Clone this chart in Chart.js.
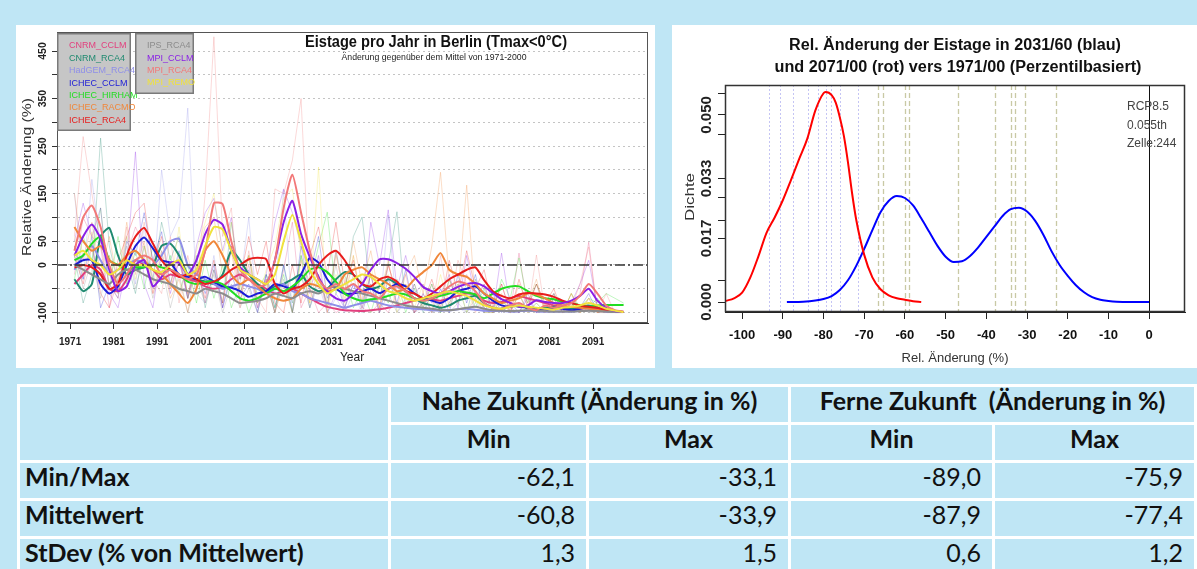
<!DOCTYPE html>
<html>
<head>
<meta charset="utf-8">
<script src="https://cdn.jsdelivr.net/npm/chart.js@4.4.1/dist/chart.umd.min.js"></script>
<style>
  html, body { margin: 0; padding: 0; }
  body { width: 1197px; height: 569px; background: #bfe6f5; position: relative; overflow: hidden; }
  .panel { position: absolute; background: #fff; }
  #leftPanel { left: 16px; top: 25px; width: 639px; height: 343px; }
  #rightPanel { left: 672px; top: 25px; width: 525px; height: 343px; }
  #stats { position: absolute; left: 17px; top: 384px; border-collapse: separate; border-spacing: 3px; background: #fff;
           font-family: Lato, 'Open Sans', sans-serif; font-size: 25px; color: #111; table-layout: fixed; }
  #stats td, #stats th { background: #bfe6f5; height: 35px; padding: 0 0 9px 0; box-sizing: border-box; line-height: 26px; }
  #stats th { font-weight: bold; text-align: center; }
  #stats td.lab { font-weight: bold; text-align: left; padding-left: 5px; }
  #stats td.num { text-align: right; padding-right: 11px; }
</style>
</head>
<body>
<div class="panel" id="leftPanel"><canvas id="trendChart" width="639" height="343"></canvas></div>
<div class="panel" id="rightPanel"><canvas id="densityChart" width="525" height="343"></canvas></div>
<table id="stats"></table>

<script>
// ---- left chart: relative change of ice days, 11 model runs ----
const years = [
  1972, 1974, 1976, 1978, 1980, 1982, 1984, 1986,
  1988, 1990, 1992, 1994, 1996, 1998, 2000, 2002,
  2004, 2006, 2008, 2010, 2012, 2014, 2016, 2018,
  2020, 2022, 2024, 2026, 2028, 2030, 2032, 2034,
  2036, 2038, 2040, 2042, 2044, 2046, 2048, 2050,
  2052, 2054, 2056, 2058, 2060, 2062, 2064, 2066,
  2068, 2070, 2072, 2074, 2076, 2078, 2080, 2082,
  2084, 2086, 2088, 2090, 2092, 2094, 2096, 2098
];
const xTickYears = [1971, 1981, 1991, 2001, 2011, 2021, 2031, 2041, 2051, 2061, 2071, 2081, 2091];
const yGridValues = [-100, -50, 0, 50, 100, 150, 200, 250, 300, 350, 400, 450];
const yLabelValues = [-100, 0, 50, 150, 250, 350, 450];

const models = ['CNRM_CCLM', 'CNRM_RCA4', 'HadGEM_RCA4', 'ICHEC_CCLM', 'ICHEC_HIRHAM', 'ICHEC_RACMO',
                'ICHEC_RCA4', 'IPS_RCA4', 'MPI_CCLM', 'MPI_RCA4', 'MPI_REMO'];

// smoothed (running mean) curves
const smooth_CNRM_CCLM = [
  -40, -20, 0, -10, -50, -55, -30, 10,
  0, -10, -30, -20, -25, -30, -35, -45,
  -50, -45, -30, -20, -30, -40, -50, -60,
  -55, -50, -60, -70, -80, -88, -92, -95,
  -96, -97, -95, -93, -90, -85, -80, -75,
  -70, -72, -75, -70, -65, -60, -62, -75,
  -80, -78, -70, -65, -70, -75, -80, -85,
  -88, -90, -92, -90, -92, -95, -98, -99];
const smooth_CNRM_RCA4 = [
  -30, -55, -40, 60, 78, 20, -20, -10,
  -5, 0, 40, 45, 20, -20, -30, -35,
  -40, -20, 30, 10, -20, -40, -55, -45,
  -40, -30, -20, -45, -55, -50, -30, -15,
  -20, -40, -50, -45, -30, -40, -55, -70,
  -80, -85, -90, -85, -75, -70, -65, -80,
  -90, -92, -85, -88, -90, -92, -90, -88,
  -90, -92, -88, -85, -90, -95, -97, -99];
const smooth_HadGEM_RCA4 = [
  -10, 20, 40, 10, -20, -10, 0, 10,
  5, 0, 20, 50, 55, 0, -20, -30,
  -40, -50, -45, -40, -45, -50, -60, -50,
  -40, -55, -60, -70, -75, -80, -85, -90,
  -85, -80, -75, -80, -85, -88, -90, -92,
  -93, -95, -96, -95, -93, -92, -94, -96,
  -97, -97, -98, -97, -96, -97, -98, -98,
  -98, -98, -97, -95, -96, -98, -99, -99];
const smooth_ICHEC_CCLM = [
  0, 10, 10, -40, -60, -45, 0, 40,
  58, 35, 10, 5, -20, -25, -30, -25,
  -35, -45, -48, -55, -67, -60, -55, -40,
  -45, -50, -20, 15, 5, -30, -50, -60,
  -60, -55, -50, -59, -50, -40, -45, -60,
  -70, -75, -80, -70, -55, -50, -45, -60,
  -75, -85, -88, -85, -90, -92, -95, -90,
  -92, -95, -92, -88, -90, -95, -98, -99];
const smooth_ICHEC_HIRHAM = [
  10, 20, 45, 60, 10, 0, -10, -5,
  -5, 0, -5, -10, -20, -35, -40, -35,
  -35, -40, -55, -70, -75, -70, -60, -50,
  -55, -45, -30, -10, -5, -15, -35, -60,
  -70, -75, -72, -70, -65, -60, -62, -70,
  -75, -70, -65, -60, -55, -58, -62, -70,
  -60, -50, -45, -45, -55, -65, -70, -72,
  -78, -80, -85, -88, -85, -84, -84, -84];
const smooth_ICHEC_RACMO = [
  80, 50, 30, 40, 10, 0, 20, 30,
  10, -10, -20, -40, -60, -80, -50, 30,
  50, 20, -20, -40, -30, -45, -60, -70,
  -75, -70, -50, -40, -45, -55, -50, -20,
  -10, -5, -20, -30, -40, -55, -50, -30,
  -15, 0, 25, -10, -20, -25, -40, -60,
  -70, -80, -75, -70, -60, -62, -70, -80,
  -85, -88, -90, -92, -94, -96, -97, -99];
const smooth_ICHEC_RCA4 = [
  -5, 0, -5, -20, -50, -40, 20, 60,
  78, 45, 10, -10, -25, -20, -30, -40,
  -35, -25, -10, 0, 12, 15, 12, -40,
  -60, -50, -45, -30, 0, 20, 30, 10,
  -20, -40, -45, -30, -25, -35, -55, -60,
  -70, -60, -45, -30, -20, -10, -5, -32,
  -55, -65, -70, -62, -59, -60, -62, -67,
  -75, -80, -85, -88, -90, -95, -98, -99];
const smooth_IPS_RCA4 = [
  0, -10, -20, -30, -40, -20, -10, -10,
  -20, -30, -35, -40, -50, -55, -60, -50,
  -55, -60, -70, -80, -78, -75, -70, -60,
  -65, -70, -60, -55, -60, -50, -45, -50,
  -55, -60, -65, -70, -75, -80, -85, -88,
  -90, -92, -95, -95, -93, -90, -88, -92,
  -95, -96, -97, -96, -95, -96, -97, -98,
  -98, -98, -97, -96, -97, -98, -99, -99];
const smooth_MPI_CCLM = [
  20, 60, 85, 55, -10, -55, -45, 0,
  10, -45, -25, 5, 5, -20, 10, 65,
  95, 85, 30, -5, -20, -30, -40, 10,
  90, 135, 65, 17, -25, -55, -70, -75,
  -60, -40, -10, 12, 12, 4, -8, -25,
  -46, -55, -60, -55, -46, -40, -38, -45,
  -59, -72, -80, -88, -85, -74, -78, -80,
  -80, -75, -65, -50, -75, -90, -97, -99];
const smooth_MPI_RCA4 = [
  30, 100, 125, 80, 0, -40, -20, 10,
  20, 10, -20, -10, -20, -30, -20, 30,
  130, 128, 50, -10, -30, -45, -40, 10,
  120, 190, 110, 30, -30, -50, -40, -50,
  -40, -55, -60, -70, -50, -45, -55, -70,
  -75, -70, -60, -45, -35, -40, -55, -80,
  -90, -92, -85, -80, -90, -95, -85, -90,
  -85, -80, -65, -40, -60, -85, -95, -98];
const smooth_MPI_REMO = [
  20, 30, 10, 0, -20, -10, 10, 0,
  0, -10, -15, 0, 10, -20, -10, 40,
  80, 75, 30, -10, -20, -30, -40, -20,
  50, 105, 50, -10, -40, -60, -50, -40,
  -30, -20, -25, -40, -55, -60, -70, -75,
  -70, -65, -60, -55, -60, -65, -75, -85,
  -90, -92, -88, -85, -88, -90, -92, -94,
  -90, -88, -85, -80, -85, -92, -96, -99];

// annual values (pale lines)
const raw_CNRM_CCLM = [
  -20, 100, 60, 40, -90, -30, 20, 80,
  40, -60, -10, -40, 20, -70, 0, -80,
  -10, -90, 40, -60, 0, -80, -30, -100,
  -10, 90, -90, -50, -100, -80, -100, -90,
  -100, -90, -100, -80, -100, -60, -70, -40,
  -90, -40, -100, -30, -80, -20, -60, -90,
  -100, -40, -100, 25, -90, -40, -100, -70,
  -100, -90, -60, 48, -100, -90, -100, -100];
const raw_CNRM_RCA4 = [
  20, -80, -20, 267, 40, -40, 10, -60,
  40, -30, 90, 10, 60, -70, 20, -90,
  -10, -80, 90, -30, 20, -80, -40, -100,
  0, -80, 20, -90, -20, -90, 30, -60,
  60, 101, -60, -70, 0, 112, -90, -40,
  -100, -60, -100, -80, -40, -100, -30, -90,
  -100, -70, -100, -60, -100, -80, -100, -70,
  -100, -80, -100, -90, -70, -100, -100, -100];
const raw_HadGEM_RCA4 = [
  150, -30, 180, 40, -20, -60, 60, -40,
  80, -50, 200, 60, 100, 330, -60, -80,
  20, -90, -10, -40, 100, -100, -20, -60,
  158, -100, -20, -90, -40, -100, -70, -100,
  -60, -100, -40, -100, 105, -100, -80, -100,
  -90, -100, -80, -100, -90, -100, -80, -100,
  -100, -90, -100, -100, -90, -100, -100, -100,
  -100, -90, -100, -80, -100, -100, -100, -100];
const raw_ICHEC_CCLM = [
  40, -30, 60, -90, -40, -70, 50, 20,
  110, 10, 70, -40, 30, -70, -10, -60,
  0, -90, -20, -70, -40, -100, -20, -90,
  0, -100, 40, -20, 60, -70, -30, -90,
  -40, -90, -20, -100, -30, -80, -10, -100,
  -60, -100, -50, -100, -20, -80, -20, -100,
  -60, -100, -80, -100, -70, -100, -90, -100,
  -80, -100, -90, -60, -100, -90, -100, -100];
const raw_ICHEC_HIRHAM = [
  -30, 60, 10, 120, -50, 60, -40, 30,
  -50, 40, -40, 20, -60, 0, -80, 10,
  -70, 0, -90, -40, -100, -50, -20, -90,
  -20, -100, 20, -40, 40, 111, -60, -20,
  -90, -50, -100, -40, -80, -30, -100, -50,
  -90, -40, -100, -30, -80, -40, -90, -50,
  -100, -30, -70, 15, -80, -40, -90, -60,
  -100, -60, -90, -70, -80, -60, -70, -80];
const raw_ICHEC_RACMO = [
  150, 10, 90, -20, 60, -40, 90, -10,
  50, -60, 20, -70, -30, -100, 10, 80,
  100, -20, 30, -80, 20, -90, -30, -100,
  -40, -100, 10, -80, 0, -90, 20, -60,
  50, -40, 30, -70, 10, -90, -20, 20,
  -60, 40, 195, -30, -60, 168, -80, -40,
  -100, -60, -100, -40, -80, -30, -100, -60,
  -100, -80, -100, -90, -100, -100, -100, -100];
const raw_ICHEC_RCA4 = [
  20, -40, 40, -60, -90, 10, 60, 110,
  130, 0, 60, -50, 10, -60, -10, -70,
  10, -80, 40, -30, 60, -20, 50, -80,
  -100, 0, -80, 20, 80, -20, 90, -40,
  10, -80, -20, -90, 0, -60, -40, -100,
  -80, -30, -90, 10, -60, 30, -50, -10,
  -90, -40, -100, -30, -90, -40, -80, -50,
  -100, -60, -100, -70, -100, -90, -100, -100];
const raw_IPS_RCA4 = [
  40, -50, 10, -70, 20, -60, 40, -50,
  20, -70, 0, -90, -20, -100, -30, -80,
  -20, -100, -40, -90, -50, -100, -30, -100,
  -30, -100, -20, -90, -30, -80, 0, -90,
  -20, -100, -40, -100, -60, -100, -70, -100,
  -80, -100, -90, -100, -80, -100, -70, -100,
  -100, -90, -100, -100, -90, -100, -100, -100,
  -100, -100, -90, -100, -100, -100, -100, -100];
const raw_MPI_CCLM = [
  50, 130, 60, 120, -60, -90, 0, 238,
  -40, -90, 30, -60, 10, -70, 40, 110,
  140, 30, 100, -60, -10, -90, -20, 90,
  160, 110, 40, -60, 20, -100, -60, -90,
  -40, -80, 90, 0, 116, -50, 20, -60,
  -40, -80, -60, -20, -90, 20, -70, -40,
  -100, 25, -90, -100, -60, -100, -90, -60,
  -100, -80, -40, 10, -90, -100, -100, -100];
const raw_MPI_RCA4 = [
  60, 270, 150, 40, -40, -70, 80, -20,
  90, -30, -60, 60, -80, 20, -60, 150,
  480, 60, 120, -90, 30, -70, -100, 160,
  150, 220, 350, -40, -20, -100, 30, -80,
  20, -90, -40, -100, 0, -60, -20, -100,
  -60, -100, 20, -90, 10, -40, -100, -60,
  -100, -80, -100, -60, -100, 21, -100, -80,
  -100, -90, -40, 38, -100, -60, -100, -100];
const raw_MPI_REMO = [
  60, -20, 70, -40, 20, -60, 60, -30,
  40, -40, 30, -50, 80, -70, 30, 90,
  150, 20, 90, -60, 20, -80, -10, 40,
  140, 160, 20, -80, 206, -100, -20, -70,
  20, -80, 0, -90, -20, -100, -40, -90,
  -40, -100, -20, -90, -40, -100, -60, -100,
  -100, -70, -100, -60, -100, -80, -100, -80,
  -100, -60, -100, -70, -100, -90, -100, -100];

const smoothSeries = [smooth_CNRM_CCLM, smooth_CNRM_RCA4, smooth_HadGEM_RCA4, smooth_ICHEC_CCLM, smooth_ICHEC_HIRHAM,
  smooth_ICHEC_RACMO, smooth_ICHEC_RCA4, smooth_IPS_RCA4, smooth_MPI_CCLM, smooth_MPI_RCA4, smooth_MPI_REMO];
const rawSeries = [raw_CNRM_CCLM, raw_CNRM_RCA4, raw_HadGEM_RCA4, raw_ICHEC_CCLM, raw_ICHEC_HIRHAM,
  raw_ICHEC_RACMO, raw_ICHEC_RCA4, raw_IPS_RCA4, raw_MPI_CCLM, raw_MPI_RCA4, raw_MPI_REMO];

// ---- right chart: density of the relative change ----
const redX = [-104, -102, -100, -98, -96, -94, -92, -90, -88, -86, -84, -82, -80, -79.5, -78, -77, -76, -75, -74, -73, -72, -70, -68, -66, -64, -62, -60, -58, -56];
const redY = [0.0003, 0.0010, 0.0025, 0.0065, 0.0122, 0.0185, 0.0226, 0.0272, 0.0326, 0.0382, 0.0436, 0.0512, 0.0558, 0.0561, 0.0553, 0.0533, 0.0494, 0.0444, 0.0374, 0.0292, 0.0222, 0.0126, 0.0066, 0.0034, 0.0018, 0.0010, 0.0006, 0.0002, 0.0000];
const blueX = [-89, -85, -82, -80, -78, -76, -74, -72, -70, -68, -66, -64, -62, -60, -58, -56, -54, -52, -50, -48, -46, -44, -42, -40, -38, -36, -34, -32, -30, -28, -26, -24, -22, -20, -18, -16, -14, -12, -10, -8, -5, 0];
const blueY = [0.0000, 0.0001, 0.0004, 0.0008, 0.0016, 0.0032, 0.0058, 0.0096, 0.0142, 0.0192, 0.0240, 0.0270, 0.0283, 0.0278, 0.0258, 0.0224, 0.0187, 0.0150, 0.0121, 0.0107, 0.0109, 0.0123, 0.0146, 0.0174, 0.0202, 0.0230, 0.0248, 0.0252, 0.0242, 0.0217, 0.0180, 0.0136, 0.0099, 0.0070, 0.0045, 0.0026, 0.0013, 0.0006, 0.0003, 0.0001, 0.0000, 0.0000];
const blueMarks = [-93.4, -90.7, -87.5, -83.8, -81.3, -79.4, -78.1, -75.9, -71.5];
const oliveMarks = [-66.6, -65.4, -60.0, -59.0, -46.9, -37.8, -33.9, -32.9, -30.5, -22.9];
const densXTicks = [-100, -90, -80, -70, -60, -50, -40, -30, -20, -10, 0];
const densYTicks = [0, 0.0058, 0.017, 0.0217, 0.0278, 0.033, 0.0447, 0.05, 0.0558];
const densYLabels = [0, 0.017, 0.033, 0.05];
const infoLines = ['RCP8.5', '0.055th', 'Zelle:244'];

// ---- table ----
const rowNames = ['Min/Max', 'Mittelwert', 'StDev (% von Mittelwert)'];
const nearMin = ['-62,1', '-60,8', '1,3'];
const nearMax = ['-33,1', '-33,9', '1,5'];
const farMin = ['-89,0', '-87,9', '0,6'];
const farMax = ['-75,9', '-77,4', '1,2'];

const modelColors = {
  CNRM_CCLM: '#e2407e', CNRM_RCA4: '#1f8a70', HadGEM_RCA4: '#8f8fe8', ICHEC_CCLM: '#1c1cd6',
  ICHEC_HIRHAM: '#22dd22', ICHEC_RACMO: '#f0873a', ICHEC_RCA4: '#e81c1c', IPS_RCA4: '#8c8c8c',
  MPI_CCLM: '#8a1fe6', MPI_RCA4: '#f27878', MPI_REMO: '#f0e23c'
};

const FONT = "'Liberation Sans', Arial, Helvetica, sans-serif";
Chart.defaults.font.family = FONT;

// --- Helpers ---

function fade(hex, a) {
  const n = parseInt(hex.slice(1), 16);
  return `rgba(${n >> 16},${(n >> 8) & 255},${n & 255},${a})`;
}

// text squeezed/stretched to a given width (the R picture is not evenly scaled)
function fitText(ctx, text, x, y, width, font, color, align) {
  ctx.save();
  ctx.font = font;
  ctx.fillStyle = color;
  ctx.textBaseline = 'middle';
  ctx.textAlign = align || 'center';
  const k = width ? width / ctx.measureText(text).width : 1;
  ctx.translate(x, y);
  ctx.scale(k, 1);
  ctx.fillText(text, 0, 0);
  ctx.restore();
}

// rotated text, optionally stretched to a given length
function vText(ctx, text, x, y, font, color, length) {
  ctx.save();
  ctx.translate(x, y);
  ctx.rotate(-Math.PI / 2);
  ctx.font = font;
  ctx.fillStyle = color;
  ctx.textAlign = 'center';
  ctx.textBaseline = 'middle';
  if (length) ctx.scale(length / ctx.measureText(text).width, 1);
  ctx.fillText(text, 0, 0);
  ctx.restore();
}

// --- Left chart ---

const trendDecor = {
  id: 'trendDecor',
  afterDatasetsDraw(chart) {
    const { ctx, chartArea: a, scales: { y } } = chart;
    ctx.save();
    ctx.strokeStyle = '#555';
    ctx.lineWidth = 1;
    ctx.strokeRect(a.left + 0.5, a.top + 0.5, a.right - a.left - 1, a.bottom - a.top - 1);

    // legend boxes
    const boxes = [
      { x: 41, y: 8, w: 74, h: 98, from: 0, to: 7, tx: 53, step: 12.4 },
      { x: 119, y: 8, w: 59, h: 61, from: 7, to: 11, tx: 131, step: 12.2 }
    ];
    boxes.forEach(b => {
      ctx.fillStyle = '#c6c6c6';
      ctx.fillRect(b.x, b.y, b.w, b.h);
      ctx.strokeStyle = '#7a7a7a';
      ctx.lineWidth = 1.5;
      ctx.strokeRect(b.x + 0.75, b.y + 0.75, b.w - 1.5, b.h - 1.5);
      models.slice(b.from, b.to).forEach((m, i) => {
        fitText(ctx, m, b.tx, 21 + i * b.step, null, '9px ' + FONT, modelColors[m], 'left');
      });
    });

    fitText(ctx, 'Eistage pro Jahr in Berlin (Tmax<0°C)', 420, 18, 262, 'bold 16px ' + FONT, '#111');
    fitText(ctx, 'Änderung gegenüber dem Mittel von 1971-2000', 418, 33, 185, '9px ' + FONT, '#222');

    yLabelValues.forEach(v => vText(ctx, String(v), 27, y.getPixelForValue(v), 'bold 10.5px ' + FONT, '#222'));
    vText(ctx, 'Relative Änderung (%)', 12, 152, '12px ' + FONT, '#333', 158);
    fitText(ctx, 'Year', 336, 333, null, '12px ' + FONT, '#222');
    ctx.restore();
  }
};

const trendDatasets = [{
  label: 'Bezug',
  data: [{ x: 1968, y: 0 }, { x: 2103.6, y: 0 }],
  borderColor: '#333', borderWidth: 1.6, borderDash: [10, 3, 2, 3],
  pointRadius: 0, order: -1
}];
models.forEach((m, i) => {
  trendDatasets.push({
    label: m,
    data: years.map((yr, k) => ({ x: yr, y: smoothSeries[i][k] })),
    borderColor: modelColors[m], borderWidth: 2, pointRadius: 0,
    tension: 0.2, order: 20 - i
  });
  trendDatasets.push({
    label: m + ' (jährlich)',
    data: years.map((yr, k) => ({ x: yr, y: rawSeries[i][k] })),
    borderColor: fade(modelColors[m], 0.28), borderWidth: 1, pointRadius: 0,
    tension: 0, order: 100 - i
  });
});

new Chart(document.getElementById('trendChart'), {
  type: 'line',
  data: { datasets: trendDatasets },
  options: {
    responsive: false, animation: false, devicePixelRatio: 1,
    layout: { padding: { top: 7, right: 7, left: 0, bottom: 0 } },
    plugins: { legend: { display: false }, tooltip: { enabled: false }, title: { display: false } },
    scales: {
      x: {
        type: 'linear', min: 1968, max: 2103.6,
        afterBuildTicks: s => { s.ticks = xTickYears.map(v => ({ value: v })); },
        afterFit: s => { s.height = 45; },
        grid: { drawOnChartArea: false, tickLength: 6, tickColor: '#333' },
        border: { color: '#333' },
        ticks: { font: { weight: 'bold', size: 10 }, color: '#222', padding: 7, maxRotation: 0, autoSkip: false, callback: v => String(v) }
      },
      y: {
        type: 'linear', min: -122, max: 490,
        afterBuildTicks: s => { s.ticks = yGridValues.map(v => ({ value: v })); },
        afterFit: s => { s.width = 41; },
        grid: { color: '#c4c4c4', tickColor: '#333', tickLength: 5 },
        border: { color: '#333', dash: [2, 3] },
        ticks: { display: false }
      }
    }
  },
  plugins: [trendDecor]
});

// --- Right chart ---

const densDecor = {
  id: 'densDecor',
  beforeDatasetsDraw(chart) {
    const { ctx, chartArea: a, scales: { x } } = chart;
    ctx.save();
    ctx.lineWidth = 1;
    ctx.strokeStyle = 'rgba(150,150,235,0.55)';
    ctx.setLineDash([2, 2]);
    blueMarks.forEach(v => {
      const px = Math.round(x.getPixelForValue(v)) + 0.5;
      ctx.beginPath(); ctx.moveTo(px, a.top); ctx.lineTo(px, a.bottom); ctx.stroke();
    });
    ctx.lineWidth = 1.3;
    ctx.strokeStyle = 'rgba(165,165,105,0.6)';
    ctx.setLineDash([5, 3]);
    oliveMarks.forEach(v => {
      const px = Math.round(x.getPixelForValue(v)) + 0.5;
      ctx.beginPath(); ctx.moveTo(px, a.top); ctx.lineTo(px, a.bottom); ctx.stroke();
    });
    ctx.restore();
  },
  afterDatasetsDraw(chart) {
    const { ctx, chartArea: a, scales: { x, y } } = chart;
    ctx.save();
    const zx = Math.round(x.getPixelForValue(0)) + 0.5;
    ctx.strokeStyle = '#111';
    ctx.lineWidth = 1;
    ctx.beginPath(); ctx.moveTo(zx, a.top); ctx.lineTo(zx, a.bottom); ctx.stroke();
    ctx.strokeStyle = '#333';
    ctx.lineWidth = 1.5;
    ctx.strokeRect(a.left + 0.5, a.top + 0.5, a.right - a.left - 1, a.bottom - a.top - 1);

    fitText(ctx, 'Rel. Änderung der Eistage in 2031/60 (blau)', 283, 21, 332, 'bold 16px ' + FONT, '#111');
    fitText(ctx, 'und 2071/00 (rot) vers 1971/00 (Perzentilbasiert)', 286, 43, 367, 'bold 16px ' + FONT, '#111');

    densYLabels.forEach(v => vText(ctx, v.toFixed(3), 35, y.getPixelForValue(v), 'bold 15px ' + FONT, '#222'));
    vText(ctx, 'Dichte', 18, 172, '13px ' + FONT, '#333', 48);
    fitText(ctx, 'Rel. Änderung (%)', 283, 333, null, '13px ' + FONT, '#333');
    infoLines.forEach((t, i) => fitText(ctx, t, 455, 82 + i * 18.5, null, '12px ' + FONT, '#444', 'left'));
    ctx.restore();
  }
};

new Chart(document.getElementById('densityChart'), {
  type: 'line',
  data: {
    datasets: [
      {
        label: '2071/00',
        data: redX.map((v, i) => ({ x: v, y: redY[i] })),
        borderColor: '#ff0000', borderWidth: 2, pointRadius: 0,
        cubicInterpolationMode: 'monotone'
      },
      {
        label: '2031/60',
        data: blueX.map((v, i) => ({ x: v, y: blueY[i] })),
        borderColor: '#0000ff', borderWidth: 2, pointRadius: 0,
        cubicInterpolationMode: 'monotone'
      }
    ]
  },
  options: {
    responsive: false, animation: false, devicePixelRatio: 1,
    layout: { padding: { top: 60, right: 12, left: 0, bottom: 0 } },
    plugins: { legend: { display: false }, tooltip: { enabled: false }, title: { display: false } },
    scales: {
      x: {
        type: 'linear', min: -104.2, max: 8.8,
        afterBuildTicks: s => { s.ticks = densXTicks.map(v => ({ value: v })); },
        afterFit: s => { s.height = 56; },
        grid: { drawOnChartArea: false, tickLength: 7, tickColor: '#222' },
        border: { color: '#222' },
        ticks: { font: { weight: 'bold', size: 13 }, color: '#111', padding: 9, maxRotation: 0, autoSkip: false, callback: v => String(v) }
      },
      y: {
        type: 'linear', min: -0.00267, max: 0.058,
        afterBuildTicks: s => { s.ticks = densYTicks.map(v => ({ value: v })); },
        afterFit: s => { s.width = 53; },
        grid: { drawOnChartArea: false, tickLength: 7, tickColor: '#222' },
        border: { color: '#222' },
        ticks: { display: false }
      }
    }
  },
  plugins: [densDecor]
});

// --- Table ---

function buildTable() {
  const widths = [370, 196, 200, 202, 200];
  let html = '<colgroup>' + widths.map(w => `<col style="width:${w}px">`).join('') + '</colgroup>';
  html += '<tr><th rowspan="2"></th><th colspan="2">Nahe Zukunft (Änderung in %)</th>' +
          '<th colspan="2">Ferne Zukunft&nbsp; (Änderung in %)</th></tr>';
  html += '<tr><th>Min</th><th>Max</th><th>Min</th><th>Max</th></tr>';
  html += rowNames.map((r, i) => `
    <tr>
      <td class="lab">${r}</td>
      <td class="num">${nearMin[i]}</td>
      <td class="num">${nearMax[i]}</td>
      <td class="num">${farMin[i]}</td>
      <td class="num">${farMax[i]}</td>
    </tr>`).join('');
  document.getElementById('stats').innerHTML = html;
}
buildTable();
</script>
</body>
</html>
